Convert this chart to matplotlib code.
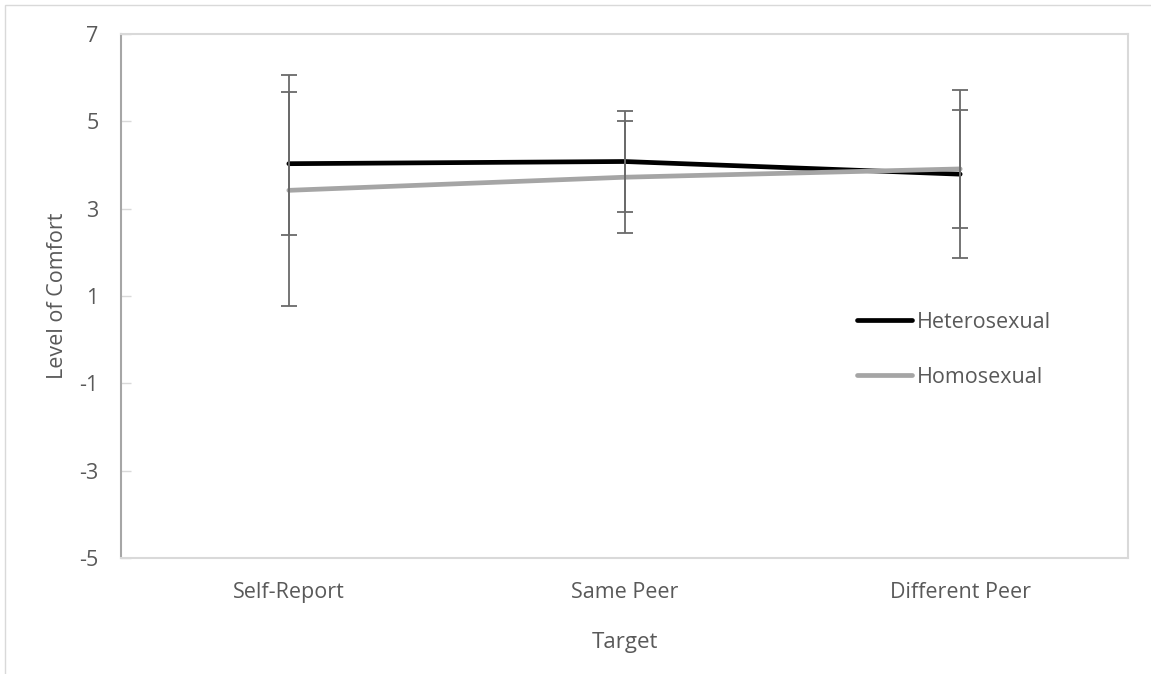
import numpy as np
import matplotlib as mpl
import matplotlib.pyplot as plt
from matplotlib.patches import Rectangle

mpl.rcParams['font.family'] = ['Open Sans', 'DejaVu Sans']

targets = ['Self-Report', 'Same Peer', 'Different Peer']
hetero_mean = [4.03, 4.08, 3.79]
hetero_err = [1.64, 1.16, 1.92]
homo_mean = [3.42, 3.72, 3.91]
homo_err = [2.64, 1.28, 1.35]
y_ticks = [-5, -3, -1, 1, 3, 5, 7]

text_col = '#595959'
x = np.arange(len(targets))

fig = plt.figure(figsize=(11.51, 6.74), dpi=100)
ax = fig.add_axes([121 / 1151, 1 - 558 / 674, 1007 / 1151, 524 / 674])

# outer chart frame
fig.patches.append(Rectangle((5 / 1151, -0.1), 1.2, 1 - 5 / 674 + 0.1, transform=fig.transFigure,
                             fill=False, edgecolor='#d9d9d9', linewidth=1))

ax.plot(x, hetero_mean, color='black', linewidth=3.4, label='Heterosexual', zorder=3,
        solid_capstyle='round')
ax.plot(x, homo_mean, color='#a5a5a5', linewidth=3.4, label='Homosexual', zorder=3,
        solid_capstyle='round')
ax.errorbar(x, hetero_mean, yerr=hetero_err, fmt='none', ecolor='#6a6a6a',
            elinewidth=1.3, capsize=6, capthick=1.3, zorder=4)
ax.errorbar(x, homo_mean, yerr=homo_err, fmt='none', ecolor='#6a6a6a',
            elinewidth=1.3, capsize=6, capthick=1.3, zorder=4)

ax.set_xlim(-0.5, 2.5)
ax.set_ylim(-5, 7)
ax.set_yticks(y_ticks)
ax.set_yticklabels([str(v) for v in y_ticks])
ax.set_xticks(x)
ax.set_xticklabels(targets)

for side in ['top', 'right', 'bottom']:
    ax.spines[side].set_color('#d9d9d9')
    ax.spines[side].set_linewidth(1.5)
ax.spines['left'].set_color('#a6a6a6')
ax.spines['left'].set_linewidth(1.5)

ax.tick_params(axis='y', direction='in', length=7, width=1, color='#d9d9d9',
               labelsize=15.5, labelcolor=text_col, pad=16)
ax.tick_params(axis='x', length=0, labelsize=15.5, labelcolor=text_col, pad=17.5)

ax.set_ylabel('Level of Comfort', fontsize=15.5, color=text_col, labelpad=8)
ax.set_xlabel('Target', fontsize=16, color=text_col, labelpad=21)

leg = ax.legend(loc='upper left', bbox_to_anchor=(0.731, 0.470), frameon=False,
                fontsize=15.5, handlelength=2.55, handletextpad=0.23, labelspacing=1.58,
                borderpad=0, borderaxespad=0)
for t in leg.get_texts():
    t.set_color(text_col)

fig.savefig('out.png', dpi=100)
